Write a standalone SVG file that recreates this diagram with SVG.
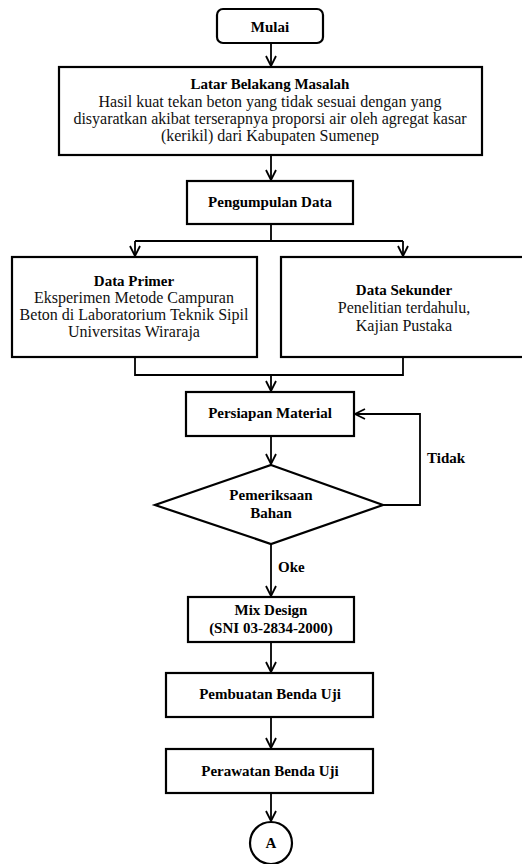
<svg xmlns="http://www.w3.org/2000/svg" width="522" height="864" viewBox="0 0 522 864">
<defs>
<marker id="ah" viewBox="0 0 12 12" refX="11" refY="6" markerWidth="12" markerHeight="12" markerUnits="userSpaceOnUse" orient="auto">
<path d="M1,1 L11,6 L1,11" fill="none" stroke="#000" stroke-width="1.8"/>
</marker>
<style>
.b{fill:#fff;stroke:#000;stroke-width:2.2}
.c{fill:none;stroke:#000;stroke-width:1.8}
text{font-size:16px;fill:#111;text-anchor:middle}
.t{font-weight:bold;font-size:15px;fill:#000}
.l{text-anchor:start}
</style>
</defs>
<rect width="522" height="864" fill="#fff"/>
<g font-family="Liberation Serif, Times New Roman, serif">
<g id="connectors">
<path class="c" d="M271,43 V66" marker-end="url(#ah)"/>
<path class="c" d="M271,155 V180" marker-end="url(#ah)"/>
<path class="c" d="M271,224 V241 M135,241 H403"/>
<path class="c" d="M135,241 V256" marker-end="url(#ah)"/>
<path class="c" d="M403,241 V256" marker-end="url(#ah)"/>
<path class="c" d="M135,357 V375 H403 V357"/>
<path class="c" d="M271,375 V391" marker-end="url(#ah)"/>
<path class="c" d="M271,436 V464" marker-end="url(#ah)"/>
<path class="c" d="M383,505 H420 V414 H355" marker-end="url(#ah)"/>
<path class="c" d="M271,544 V596" marker-end="url(#ah)"/>
<path class="c" d="M271,642 V672" marker-end="url(#ah)"/>
<path class="c" d="M271,717 V748" marker-end="url(#ah)"/>
<path class="c" d="M271,793 V821" marker-end="url(#ah)"/>
<text class="t l" x="427" y="463">Tidak</text>
<text class="t l" x="278" y="572">Oke</text>
</g>
<g id="mulai">
<rect class="b" x="217" y="9" width="106" height="34" rx="6"/>
<text class="t" x="270" y="32">Mulai</text>
</g>
<g id="latar">
<rect class="b" x="59" y="67" width="423" height="88"/>
<text class="t" x="270" y="89">Latar Belakang Masalah</text>
<text x="270" y="107">Hasil kuat tekan beton yang tidak sesuai dengan yang</text>
<text x="270" y="124">disyaratkan akibat terserapnya proporsi air oleh agregat kasar</text>
<text x="270" y="141">(kerikil) dari Kabupaten Sumenep</text>
</g>
<g id="pengumpulan">
<rect class="b" x="187" y="181" width="166" height="43"/>
<text class="t" x="270" y="207">Pengumpulan Data</text>
</g>
<g id="primer">
<rect class="b" x="12" y="257" width="245" height="100"/>
<text class="t" x="134" y="286">Data Primer</text>
<text x="134" y="303">Eksperimen Metode Campuran</text>
<text x="134" y="320">Beton di Laboratorium Teknik Sipil</text>
<text x="134" y="337">Universitas Wiraraja</text>
</g>
<g id="sekunder">
<rect class="b" x="281" y="257" width="245" height="100"/>
<text class="t" x="404" y="295">Data Sekunder</text>
<text x="404" y="313">Penelitian terdahulu,</text>
<text x="404" y="331">Kajian Pustaka</text>
</g>
<g id="persiapan">
<rect class="b" x="186" y="392" width="168" height="44"/>
<text class="t" x="270" y="418">Persiapan Material</text>
</g>
<g id="pemeriksaan">
<path class="b" d="M271,465 L383,505 L271,544 L155,505 Z"/>
<text class="t" x="271" y="500">Pemeriksaan</text>
<text class="t" x="271" y="518">Bahan</text>
</g>
<g id="mix">
<rect class="b" x="188" y="597" width="166" height="45"/>
<text class="t" x="271" y="615">Mix Design</text>
<text class="t" x="271" y="633">(SNI 03-2834-2000)</text>
</g>
<g id="pembuatan">
<rect class="b" x="166" y="673" width="207" height="44"/>
<text class="t" x="270" y="699">Pembuatan Benda Uji</text>
</g>
<g id="perawatan">
<rect class="b" x="166" y="749" width="207" height="44"/>
<text class="t" x="270" y="776">Perawatan Benda Uji</text>
</g>
<g id="a">
<circle class="b" cx="271" cy="843" r="21"/>
<text class="t" x="271" y="848">A</text>
</g>
</g>
</svg>
